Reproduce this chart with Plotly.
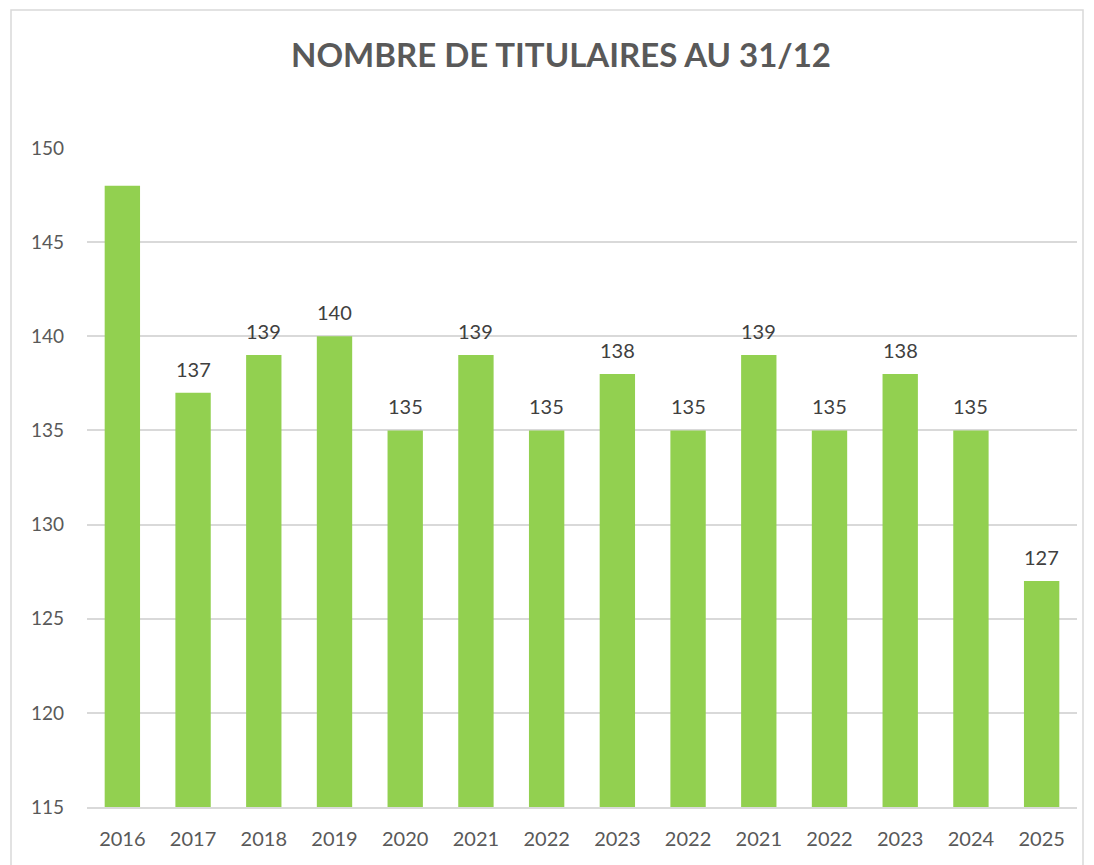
import plotly.graph_objects as go

categories = ["2016", "2017", "2018", "2019", "2020", "2021", "2022",
              "2023", "2022", "2021", "2022", "2023", "2024", "2025"]
values = [148, 137, 139, 140, 135, 139, 135, 138, 135, 139, 135, 138, 135, 127]
show_label = [False] + [True] * 13
y_ticks = [115, 120, 125, 130, 135, 140, 145, 150]

positions = list(range(len(categories)))

# page body has an 8px margin; compensate
OFF = 8
L, T, PW, PH = 87 - OFF, 148 - OFF, 990, 659
W, H = 1094, 865
R = W - L - PW
B = H - T - PH

FONT = "Lato, Open Sans, sans-serif"

fig = go.Figure()
fig.add_trace(go.Bar(
    x=positions, y=values, marker=dict(color="#92D050", line=dict(width=0)),
    hoverinfo="y",
))

for p, v, s in zip(positions, values, show_label):
    if s:
        fig.add_annotation(x=p, y=v, text=str(v), showarrow=False, yshift=24,
                           font=dict(family=FONT, size=20, color="#404040"))

# outer chart border (page coords 11..1083 x, 10..beyond bottom y)
fig.add_shape(type="rect", xref="paper", yref="paper",
              x0=(11 - OFF - L) / PW, x1=(1083 - OFF - L) / PW,
              y0=(T + PH - (880 - OFF)) / PH, y1=(T + PH - (10 - OFF)) / PH,
              line=dict(color="#D9D9D9", width=1.5), fillcolor="rgba(0,0,0,0)", layer="below")

fig.update_layout(
    width=W, height=H,
    margin=dict(l=L, r=R, t=T, b=B),
    paper_bgcolor="white", plot_bgcolor="white",
    bargap=0.5,
    showlegend=False,
    title=dict(text="<b>NOMBRE DE TITULAIRES AU 31/12</b>", x=(561 - OFF) / W,
               xanchor="center", y=1 - (55 - OFF) / H, yanchor="middle",
               font=dict(family=FONT, size=33, color="#595959")),
    xaxis=dict(tickmode="array", tickvals=positions, ticktext=categories,
               range=[-0.5, len(categories) - 0.5], showgrid=False,
               showline=True, linecolor="#D9D9D9", linewidth=2, ticks="",
               tickfont=dict(family=FONT, size=20, color="#595959"),
               ticklabelstandoff=13, zeroline=False),
    yaxis=dict(range=[115, 150], tickmode="array", tickvals=y_ticks,
               showgrid=True, gridcolor="#D9D9D9", gridwidth=1.5, zeroline=False,
               showline=False, ticks="",
               tickfont=dict(family=FONT, size=19, color="#595959"),
               ticklabelstandoff=22),
)

fig.write_html("out.html")
